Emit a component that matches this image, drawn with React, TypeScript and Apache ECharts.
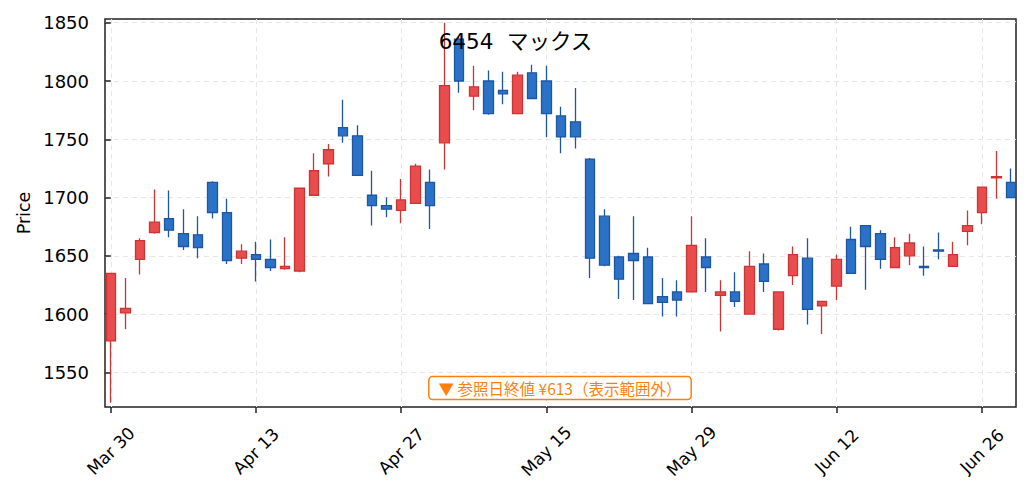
import React, { useEffect, useRef } from "react";
import * as echarts from "echarts";

const dates = [
  "Mar 30", "Mar 31", "Apr 1", "Apr 2", "Apr 3", "Apr 6", "Apr 7", "Apr 8", "Apr 9", "Apr 10",
  "Apr 13", "Apr 14", "Apr 15", "Apr 16", "Apr 17", "Apr 20", "Apr 21", "Apr 22", "Apr 23", "Apr 24",
  "Apr 27", "Apr 28", "Apr 30", "May 1", "May 7", "May 8", "May 11", "May 12", "May 13", "May 14",
  "May 15", "May 18", "May 19", "May 20", "May 21", "May 22", "May 25", "May 26", "May 27", "May 28",
  "May 29", "Jun 1", "Jun 2", "Jun 3", "Jun 4", "Jun 5", "Jun 8", "Jun 9", "Jun 10", "Jun 11",
  "Jun 12", "Jun 15", "Jun 16", "Jun 17", "Jun 18", "Jun 19", "Jun 22", "Jun 23", "Jun 24", "Jun 25",
  "Jun 26", "Jun 29", "Jun 30",
];

const opens = [
  1577, 1601, 1647, 1670, 1682, 1669, 1668, 1713, 1687, 1648,
  1651, 1647, 1639, 1637, 1702, 1729, 1760, 1753, 1702, 1693,
  1689, 1695, 1713, 1747, 1836, 1787, 1800, 1792, 1772, 1807,
  1800, 1770, 1765, 1733, 1684, 1649, 1652, 1649, 1615, 1619,
  1619, 1649, 1616, 1619, 1600, 1643, 1587, 1633, 1648, 1607,
  1624, 1664, 1676, 1669, 1640, 1650, 1641, 1655, 1641, 1671,
  1687, 1717, 1713,
];

const closes = [
  1635, 1605, 1663, 1679, 1672, 1658, 1657, 1687, 1646, 1654,
  1647, 1640, 1641, 1708, 1723, 1741, 1753, 1719, 1693, 1690,
  1698, 1727, 1693, 1796, 1800, 1795, 1772, 1789, 1805, 1785,
  1772, 1752, 1752, 1648, 1642, 1630, 1646, 1609, 1610, 1612,
  1659, 1640, 1619, 1611, 1641, 1628, 1619, 1651, 1604, 1611,
  1647, 1635, 1658, 1647, 1657, 1661, 1640, 1654, 1651, 1676,
  1709, 1718, 1700,
];

const lows = [
  1524, 1587, 1634, 1669, 1666, 1655, 1648, 1682, 1643, 1643,
  1628, 1637, 1638, 1636, 1702, 1718, 1747, 1719, 1676, 1683,
  1678, 1695, 1673, 1724, 1790, 1775, 1771, 1780, 1772, 1785,
  1752, 1738, 1742, 1631, 1641, 1613, 1612, 1609, 1598, 1598,
  1619, 1619, 1585, 1606, 1600, 1619, 1586, 1625, 1591, 1583,
  1612, 1635, 1621, 1639, 1640, 1642, 1633, 1647, 1641, 1659,
  1677, 1699, 1700,
];

const highs = [
  1635, 1631, 1665, 1707, 1706, 1690, 1684, 1714, 1699, 1660,
  1662, 1664, 1666, 1708, 1738, 1746, 1784, 1762, 1723, 1700,
  1716, 1729, 1724, 1850, 1838, 1813, 1809, 1808, 1808, 1814,
  1813, 1778, 1794, 1734, 1690, 1650, 1684, 1657, 1631, 1629,
  1684, 1665, 1629, 1636, 1654, 1652, 1619, 1658, 1665, 1611,
  1651, 1675, 1676, 1672, 1666, 1669, 1658, 1670, 1662, 1689,
  1709, 1740, 1725,
];

const xTickIndices = [0, 10, 20, 30, 40, 50, 60];
const yTicks = [1550, 1600, 1650, 1700, 1750, 1800, 1850];

const titleText = "6454  マックス";
const noteText = "▼ 参照日終値 ¥613（表示範囲外）";

const LATIN = "'DejaVu Sans', 'Noto Sans CJK JP', sans-serif";
const CJK = "'Noto Sans CJK JP', 'DejaVu Sans', sans-serif";

export default function App() {
  const ref = useRef<HTMLDivElement>(null);

  useEffect(() => {
    if (!ref.current) return;
    const chart = echarts.init(ref.current, null, { renderer: "svg" });
    const data = dates.map((_, i) => [i, opens[i], closes[i], lows[i], highs[i]]);

    chart.setOption({
      animation: false,
      backgroundColor: "#ffffff",
      textStyle: { fontFamily: LATIN },
      title: {
        text: titleText,
        left: "center",
        top: 31,
        padding: 0,
        textStyle: { fontFamily: LATIN, fontSize: 21.5, fontWeight: "normal", color: "#000" },
      },
      grid: {
        left: 105,
        right: 15,
        top: 19,
        bottom: 90,
        show: true,
        borderColor: "#222",
        borderWidth: 1.5,
        backgroundColor: "transparent",
      },
      xAxis: {
        type: "value",
        min: -0.4,
        max: 62.35,
        axisLine: { show: false },
        axisTick: {
          show: true,
          customValues: xTickIndices,
          length: 6,
          lineStyle: { color: "#222", width: 1.5 },
        },
        axisLabel: {
          customValues: xTickIndices,
          formatter: (v: number) => dates[Math.round(v)] ?? "",
          rotate: 45,
          align: "center",
          verticalAlign: "middle",
          margin: 44,
          fontSize: 17,
          color: "#000",
          fontFamily: LATIN,
        },
        splitLine: {
          show: true,
          lineStyle: { color: "#e6e6e6", type: [5, 4], width: 1 },
        },
      },
      yAxis: {
        type: "value",
        min: 1520.3,
        max: 1853.2,
        name: "Price",
        nameLocation: "middle",
        nameRotate: 90,
        nameGap: 71,
        nameTextStyle: { fontSize: 17.5, color: "#000", fontFamily: LATIN },
        axisLine: { show: false },
        axisTick: {
          show: true,
          customValues: yTicks,
          length: 6,
          lineStyle: { color: "#222", width: 1.5 },
        },
        axisLabel: {
          customValues: yTicks,
          formatter: (v: number) => String(v),
          margin: 16,
          fontSize: 18,
          color: "#000",
          fontFamily: LATIN,
        },
        splitLine: {
          show: true,
          lineStyle: { color: "#e6e6e6", type: [5, 4], width: 1 },
        },
      },
      series: [
        {
          type: "candlestick",
          data,
          encode: { x: 0, y: [1, 2, 3, 4] },
          barWidth: 10,
          itemStyle: {
            color: "#e84c4c",
            color0: "#2b72c6",
            borderColor: "#cf3434",
            borderColor0: "#1c56a4",
            borderWidth: 1.3,
          },
        },
      ],
      graphic: [
        {
          type: "text",
          x: 560,
          y: 388,
          z: 100,
          style: {
            text: noteText,
            fill: "#ff7f0e",
            font: `15.5px ${CJK}`,
            align: "center",
            verticalAlign: "middle",
            backgroundColor: "#ffffff",
            borderColor: "#ff7f0e",
            borderWidth: 1.5,
            borderRadius: 3,
            padding: [3, 9, 3, 9],
          },
        },
      ],
    });

    return () => {
      chart.dispose();
    };
  }, []);

  return <div ref={ref} style={{ width: 1031, height: 497, margin: -8 }} />;
}
